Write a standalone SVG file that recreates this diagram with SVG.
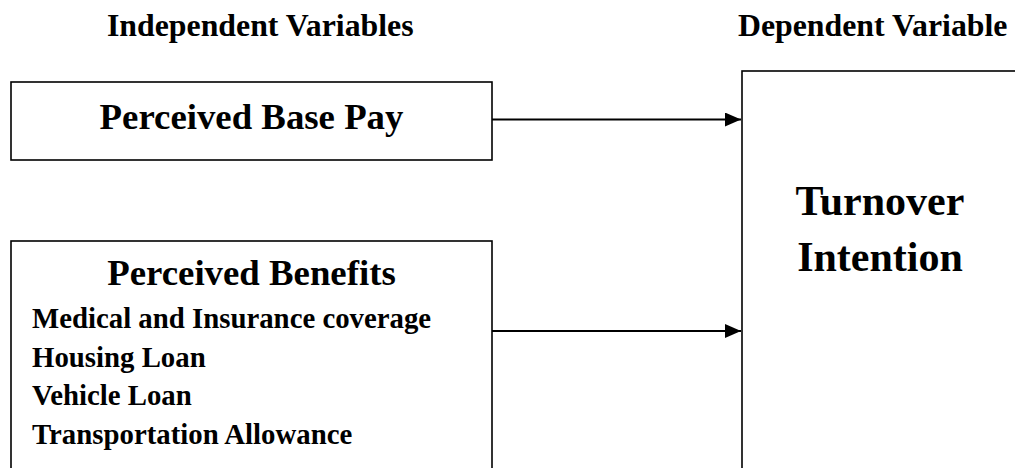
<svg xmlns="http://www.w3.org/2000/svg" width="1015" height="468" viewBox="0 0 1015 468">
<style>
text{font-family:"Liberation Serif","Times New Roman",serif;font-weight:bold;fill:#000}
.box{fill:#fff;stroke:#000;stroke-width:1.6}
.hdr{font-size:31.8px}
.title{font-size:36.8px;text-anchor:middle}
.item{font-size:28.8px}
.dv{font-size:42px;text-anchor:middle}
.conn{stroke:#000;stroke-width:2.2;fill:none}
</style>
<defs>
<marker id="arr" markerWidth="16" markerHeight="14" refX="16" refY="7" orient="auto" markerUnits="userSpaceOnUse">
<path d="M0,0 L16,7 L0,14 Z" fill="#000"/>
</marker>
</defs>
<rect width="1015" height="468" fill="#fff"/>
<g id="headers">
<text class="hdr" x="107" y="36">Independent Variables</text>
<text class="hdr" x="738" y="36">Dependent Variable</text>
</g>
<g id="node-base-pay">
<rect class="box" x="11" y="82" width="481" height="78"/>
<text class="title" x="251.5" y="129">Perceived Base Pay</text>
</g>
<g id="node-benefits">
<rect class="box" x="11" y="241" width="481" height="240"/>
<text class="title" x="251.5" y="285">Perceived Benefits</text>
<text class="item" x="32" y="328">Medical and Insurance coverage</text>
<text class="item" x="32" y="367">Housing Loan</text>
<text class="item" x="32" y="405">Vehicle Loan</text>
<text class="item" x="32" y="444">Transportation Allowance</text>
</g>
<g id="node-turnover">
<rect class="box" x="742" y="71" width="290" height="410"/>
<text class="dv" x="880" y="215">Turnover</text>
<text class="dv" x="880" y="271">Intention</text>
</g>
<g id="connectors">
<line class="conn" x1="492" y1="119.5" x2="741" y2="119.5" marker-end="url(#arr)"/>
<line class="conn" x1="492" y1="331" x2="741" y2="331" marker-end="url(#arr)"/>
</g>
</svg>
